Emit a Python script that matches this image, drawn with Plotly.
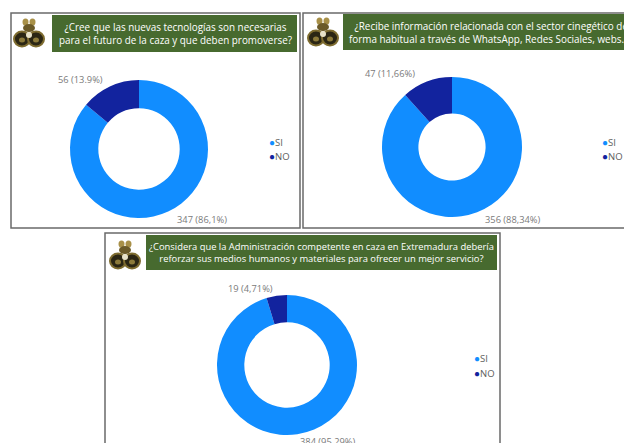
import plotly.graph_objects as go

W, H = 624, 443

# datos
categorias = ["SI", "NO"]
colores = ["#118DFF", "#12239E"]

preguntas = [
    "¿Cree que las nuevas tecnologías son necesarias<br>para el futuro de la caza y que deben promoverse?",
    "¿Recibe información relacionada con el sector cinegético de<br>forma habitual a través de WhatsApp, Redes Sociales, webs...?",
    "¿Considera que la Administración competente en caza en Extremadura debería<br>reforzar sus medios humanos y materiales para ofrecer un mejor servicio?",
]
valores_p1 = [347, 56]
valores_p2 = [356, 47]
valores_p3 = [384, 19]
etiquetas_p1 = ["347 (86,1%)", "56 (13.9%)"]
etiquetas_p2 = ["356 (88,34%)", "47 (11,66%)"]
etiquetas_p3 = ["384 (95,29%)", "19 (4,71%)"]

# geometría de cada panel (en píxeles)
paneles = [
    dict(box=(11, 13, 300, 228), tbox=(52, 15, 297, 52), tpos=(175, 33.5), tanchor="center", tsize=9.9,
         logo=(29, 34), c=(139, 149), r=69, hole=0.59, lab=[(202, 219), (80, 80)], leg=(267, 149)),
    dict(box=(303, 13, 650, 228), tbox=(343, 14, 650, 50), tpos=(347, 32), tanchor="left", tsize=9.9,
         logo=(323, 33), c=(452, 147), r=70, hole=0.48, lab=[(512, 220), (390, 74)], leg=(600, 149)),
    dict(box=(105, 233, 500, 480), tbox=(146, 235, 497, 270), tpos=(321.5, 252.5), tanchor="center", tsize=9.4,
         logo=(125, 256), c=(287, 365), r=70, hole=0.61, lab=[(327, 441), (250, 288)], leg=(472, 365)),
]
valores = [valores_p1, valores_p2, valores_p3]
etiquetas = [etiquetas_p1, etiquetas_p2, etiquetas_p3]


def px(x):
    return x / W


def py(y):
    return 1 - y / H


def rect(x0, y0, x1, y1, **kw):
    return dict(type="rect", xref="paper", yref="paper",
                x0=px(x0), x1=px(x1), y0=py(y1), y1=py(y0), **kw)


def circ(cx, cy, rx, ry, **kw):
    return dict(type="circle", xref="paper", yref="paper",
                x0=px(cx - rx), x1=px(cx + rx), y0=py(cy + ry), y1=py(cy - ry), **kw)


def logo(cx, cy):
    oro = "#A89048"
    osc = "#2B2614"
    borde = "#7E6C30"
    return [
        circ(cx - 3.5, cy - 12, 3, 3.5, fillcolor=oro, line=dict(width=0)),
        circ(cx + 3.5, cy - 12, 3, 3.5, fillcolor=oro, line=dict(width=0)),
        circ(cx, cy - 6, 6, 4, fillcolor="#6B5A28", line=dict(width=0)),
        circ(cx - 7, cy + 5, 8, 7.5, fillcolor=osc, line=dict(color=borde, width=2)),
        circ(cx + 7, cy + 5, 8, 7.5, fillcolor=osc, line=dict(color=borde, width=2)),
        circ(cx - 7, cy + 6, 3, 2.5, fillcolor="#8C7A3A", line=dict(width=0)),
        circ(cx + 7, cy + 6, 3, 2.5, fillcolor="#8C7A3A", line=dict(width=0)),
        circ(cx, cy + 1, 3, 3, fillcolor="#E8E2C8", line=dict(width=0)),
    ]


fig = go.Figure()
shapes = []
annotations = []

for p, vals, labs, preg in zip(paneles, valores, etiquetas, preguntas):
    cx, cy = p["c"]
    r = p["r"]
    fig.add_trace(go.Pie(
        labels=categorias, values=vals,
        marker=dict(colors=colores, line=dict(width=0)),
        hole=p["hole"], sort=False, direction="clockwise", rotation=0,
        textinfo="none", hoverinfo="skip", showlegend=False,
        domain=dict(x=[px(cx - r), px(cx + r)], y=[py(cy + r), py(cy - r)]),
    ))

    shapes.append(rect(*p["box"], line=dict(color="#6A6A6A", width=1.5), fillcolor="rgba(0,0,0,0)"))
    shapes.append(rect(*p["tbox"], line=dict(width=0), fillcolor="#476A2F"))
    shapes.extend(logo(*p["logo"]))

    annotations.append(dict(
        x=px(p["tpos"][0]), y=py(p["tpos"][1]), xref="paper", yref="paper",
        text=preg, showarrow=False, align="center", xanchor=p["tanchor"], yanchor="middle",
        font=dict(family="Open Sans", size=p["tsize"], color="white"),
    ))

    for (lx, ly), t in zip(p["lab"], labs):
        annotations.append(dict(
            x=px(lx), y=py(ly), xref="paper", yref="paper", text=t, showarrow=False,
            xanchor="center", yanchor="middle",
            font=dict(family="Open Sans", size=9.3, color="#7A7A7A"),
        ))

    lx, ly = p["leg"]
    for i, (cat, col) in enumerate(zip(categorias, colores)):
        annotations.append(dict(
            x=px(lx), y=py(ly + (i - 0.5) * 15), xref="paper", yref="paper",
            text=f"<span style='color:{col};font-size:10px'>●</span>{cat}",
            showarrow=False, xanchor="left", yanchor="middle",
            font=dict(family="Open Sans", size=9.5, color="#605E5C"),
        ))

fig.update_layout(
    width=W, height=H,
    margin=dict(l=0, r=0, t=0, b=0),
    paper_bgcolor="white", plot_bgcolor="white",
    shapes=shapes, annotations=annotations,
)

fig.write_html("out.html", config=dict(displayModeBar=False),
               post_script="document.body.style.margin='0';")
